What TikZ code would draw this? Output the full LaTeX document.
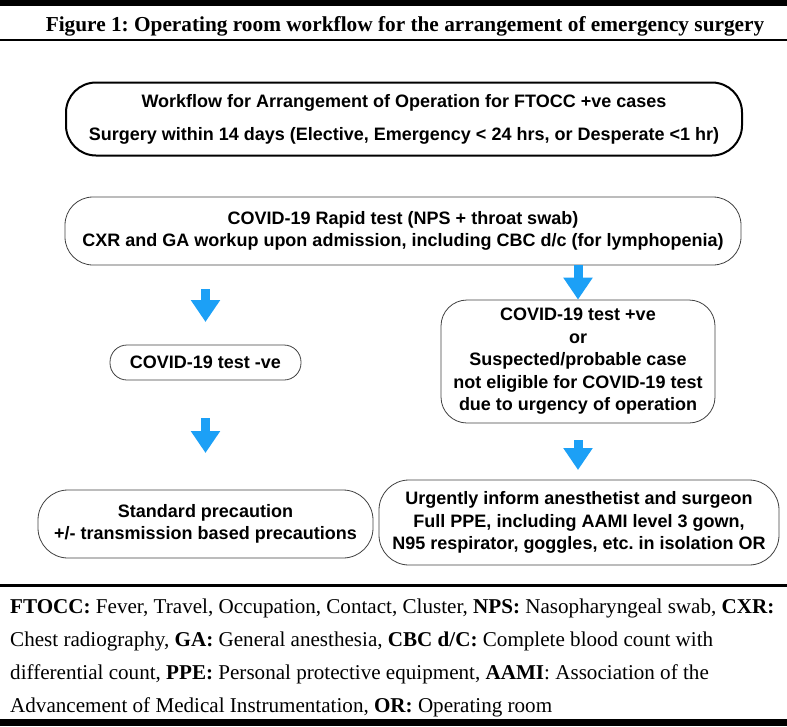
\documentclass[tikz,border=0pt]{standalone}
\usepackage{fontspec}
\setmainfont{Liberation Serif}
\newfontfamily\titlefont{Liberation Serif}
\newfontfamily\notefont{Liberation Serif}
\newfontfamily\boxfont{Liberation Sans}
\usetikzlibrary{arrows.meta}
\definecolor{arrowblue}{RGB}{28,160,246}
\frenchspacing
\begin{document}
\begin{tikzpicture}[x=1pt,y=-1pt,
  box/.style={draw=black!75, line width=0.8pt, rounded corners=18pt, align=center,
    font=\boxfont\bfseries\fontsize{18}{22.5}\selectfont, inner sep=0pt},
  flow/.style={arrowblue, line width=9pt, -{Triangle[width=28pt,length=22pt]}},
  note/.style={anchor=base west, inner sep=0pt, font=\notefont\fontsize{21.1}{26}\selectfont},
]
\useasboundingbox (0,0) rectangle (787,726);
\fill (0,0) rectangle (787,6);
\fill (0,719) rectangle (787,726);
\node[anchor=base, inner sep=0pt, font=\titlefont\bfseries\fontsize{21.3}{26}\selectfont] (title) at (405,31)
  {Figure 1: Operating room workflow for the arrangement of emergency surgery};
\draw[line width=2pt] (0,40) -- (787,40);

\node[box, draw=black, line width=2pt, rounded corners=30pt, minimum width=676pt, minimum height=73pt] (wf) at (404,119)
  {Workflow for Arrangement of Operation for FTOCC +ve cases\\[10.5pt]
   Surgery within 14 days (Elective, Emergency < 24 hrs, or Desperate <1 hr)};
\node[box, rounded corners=28pt, minimum width=676pt, minimum height=68pt] (rapid) at (403,231)
  {COVID-19 Rapid test (NPS + throat swab)\\
   CXR and GA workup upon admission, including CBC d/c (for lymphopenia)};
\node[box, rounded corners=17pt, minimum width=191pt, minimum height=35pt] (neg) at (205.5,362.5)
  {COVID-19 test -ve};
\node[box, rounded corners=26pt, minimum width=274pt, minimum height=123pt] (pos) at (578,361.5)
  {COVID-19 test +ve\\ or\\ Suspected/probable case\\ not eligible for COVID-19 test\\ due to urgency of operation};
\node[box, rounded corners=30pt, minimum width=335pt, minimum height=68pt] (std) at (205.5,524)
  {Standard precaution\\ +/- transmission based precautions};
\node[box, rounded corners=30pt, minimum width=400pt, minimum height=85pt] (urg) at (579,522.5)
  {Urgently inform anesthetist and surgeon\\ Full PPE, including AAMI level 3 gown,\\ N95 respirator, goggles, etc. in isolation OR};

\coordinate (l1s) at (205.5,289);
\coordinate (l1e) at (205.5,322);
\coordinate (l2s) at (205.5,418);
\coordinate (l2e) at (205.5,453);
\coordinate (r2s) at (578,440);
\coordinate (r2e) at (578,470);
\draw[flow] (l1s) -- (l1e);
\draw[flow] (rapid.south -| pos.north) -- (pos.north);
\draw[flow] (l2s) -- (l2e);
\draw[flow] (r2s) -- (r2e);

\draw[line width=3pt] (0,585) -- (787,585);
\node[note] (n1) at (10,613) {\textbf{FTOCC:} Fever, Travel, Occupation, Contact, Cluster, \textbf{NPS:} Nasopharyngeal swab, \textbf{CXR:}};
\node[note] (n2) at (10,646) {Chest radiography, \textbf{GA:} General anesthesia, \textbf{CBC d/C:} Complete blood count with};
\node[note] (n3) at (10,679) {differential count, \textbf{PPE:} Personal protective equipment, \textbf{AAMI}: Association of the};
\node[note] (n4) at (10,712) {Advancement of Medical Instrumentation, \textbf{OR:} Operating room};
\end{tikzpicture}
\end{document}
